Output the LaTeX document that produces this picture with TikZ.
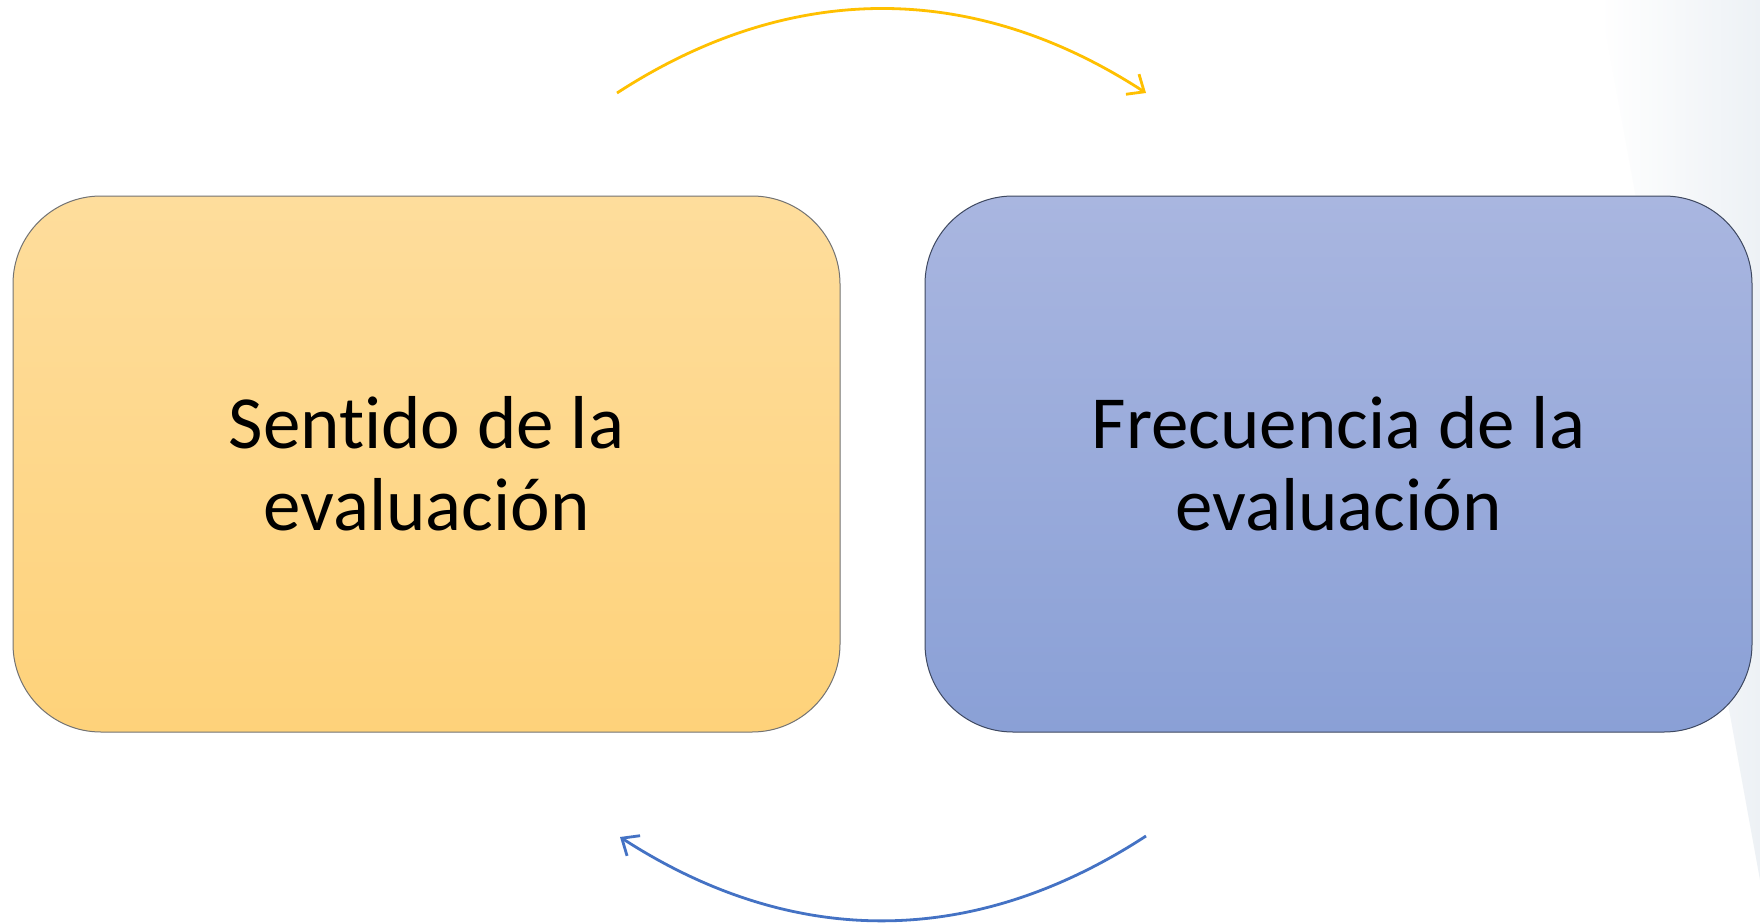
\documentclass[tikz,border=0pt]{standalone}
\usepackage{fontspec}
\setmainfont{Carlito}[RawFeature=-liga]
\usetikzlibrary{arrows.meta}
\definecolor{orTop}{HTML}{FEDD9C}
\definecolor{orBot}{HTML}{FED27A}
\definecolor{blTop}{HTML}{A9B6E0}
\definecolor{blBot}{HTML}{8AA0D6}
\definecolor{arrY}{HTML}{FFC000}
\definecolor{arrB}{HTML}{4472C4}
\definecolor{bgTint}{HTML}{EDF1F5}
\tikzset{
  card/.style={rounded corners=88pt, minimum width=827pt, minimum height=536pt,
    inner sep=0pt, align=center, font=\fontsize{75}{82}\selectfont, text=black, line width=1pt},
  cycarrow/.style={line width=2.8pt, -{Straight Barb[length=14pt,width=24pt,line width=2.8pt]}},
}
\begin{document}
\begin{tikzpicture}[x=1pt,y=-1pt]
\useasboundingbox (0,0) rectangle (1760,923);
\fill[white] (0,0) rectangle (1760,923);
\shade[left color=white, right color=bgTint] (1600,0) -- (1760,0) -- (1760,880) -- cycle;
\node[card, draw=black!55, top color=orTop, bottom color=orBot] (sent) at (426.5,464) {Sentido de la\\evaluación};
\node[card, draw=blBot!45!black, top color=blTop, bottom color=blBot] (frec) at (1338.5,464) {Frecuencia de la\\evaluación};
\coordinate (ta) at (617,93);
\coordinate (tb) at (1146,93);
\coordinate (ba) at (1146,836);
\coordinate (bb) at (620,837);
\draw[cycarrow, arrY] (ta) to[bend left=33] (tb);
\draw[cycarrow, arrB] (ba) to[bend left=33] (bb);
\end{tikzpicture}
\end{document}
